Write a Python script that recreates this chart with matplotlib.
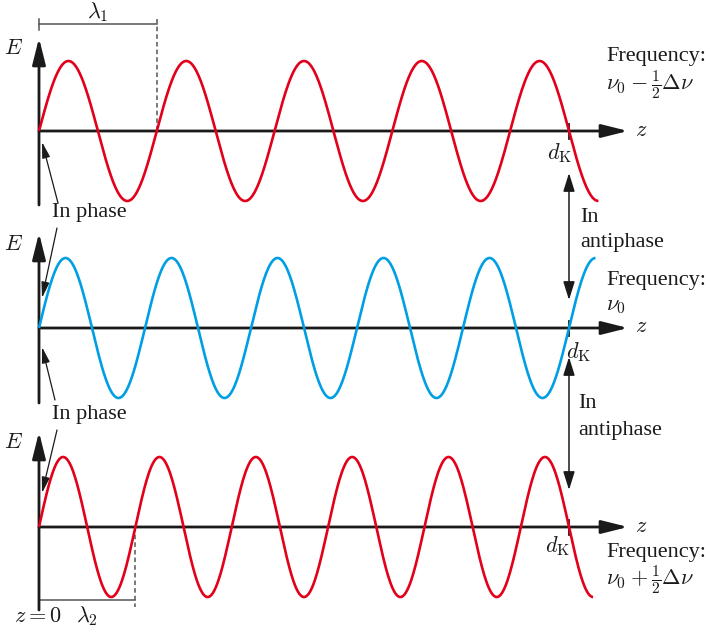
import numpy as np
import matplotlib
matplotlib.use("Agg")
import matplotlib.pyplot as plt
from matplotlib.patches import ArrowStyle

plt.rcParams['font.family'] = ['Liberation Serif', 'DejaVu Serif']
plt.rcParams['mathtext.fontset'] = 'cm'

# three waves, all measured against the same distance d_K
cycles_to_dk = [4.5, 5.0, 5.5]          # wavelengths fitting into d_K
cycles_drawn = [4.75, 5.25, 5.75]       # wavelengths drawn per wave
wave_colors = ['#e2001a', '#009fe3', '#e2001a']
freq_labels = [r'$\nu_0 - \frac{1}{2}\Delta\nu$', r'$\nu_0$', r'$\nu_0 + \frac{1}{2}\Delta\nu$']

# layout (pixels)
X0 = 39
DK = 530
AMP = 70
axis_y = [131, 328, 527]
vaxis_top = [38, 233, 432]
vaxis_bot = [205, 403, 610]
e_label_y = [50, 245, 443]
dk_label_xy = [(560, 153), (579, 352), (558, 546)]
freq_y = [(57, 85), (280, 306), (553, 580)]

INK = '#1a1a1a'
GREY = '#555555'
FS = 16

fig = plt.figure(figsize=(7.09, 6.29), dpi=100)
ax = fig.add_axes([0, 0, 1, 1])
ax.set_xlim(0, 709)
ax.set_ylim(629, 0)
ax.axis('off')

big_head = ArrowStyle('-|>', head_length=1.0, head_width=0.25)
thin_head = ArrowStyle('-|>', head_length=0.8, head_width=0.2)
dbl_head = ArrowStyle('<|-|>', head_length=0.8, head_width=0.25)


def arrow(p0, p1, style, ms, lw):
    ax.annotate('', xy=p1, xytext=p0,
                arrowprops=dict(arrowstyle=style, mutation_scale=ms, lw=lw,
                                color=INK, shrinkA=0, shrinkB=0))


for i in range(3):
    lam = DK / cycles_to_dk[i]
    ay = axis_y[i]
    # axes
    arrow((X0, ay), (628, ay), big_head, 16, 2.0)
    arrow((X0, vaxis_bot[i]), (X0, vaxis_top[i]), big_head, 16, 2.0)
    ax.text(14, e_label_y[i], '$E$', fontsize=FS, ha='center', va='center', color=INK)
    ax.text(641, ay, '$z$', fontsize=FS, ha='center', va='center', color=INK)
    # d_K tick
    ax.plot([X0 + DK, X0 + DK], [ay - 7, ay + 8], color=INK, lw=1.3)
    ax.text(*dk_label_xy[i], r'$d_{\mathrm{K}}$', fontsize=FS, ha='center', va='center', color=INK)
    # wave
    z = np.linspace(0, cycles_drawn[i] * lam, 800)
    ax.plot(X0 + z, ay - AMP * np.sin(2 * np.pi * z / lam),
            color=wave_colors[i], lw=1.9, solid_capstyle='butt', zorder=3)
    # frequency labels
    ax.text(606, freq_y[i][0], 'Frequency:', fontsize=FS, ha='left', va='center', color=INK)
    ax.text(606, freq_y[i][1], freq_labels[i], fontsize=FS, ha='left', va='center', color=INK)

# wavelength brackets
lam1 = DK / cycles_to_dk[0]
lam2 = DK / cycles_to_dk[2]
ax.plot([X0, X0 + lam1], [24, 24], color=GREY, lw=1.1)
ax.plot([X0, X0], [19, 30], color=GREY, lw=1.1)
ax.plot([X0 + lam1, X0 + lam1], [19, axis_y[0]], color=GREY, lw=1.1, ls=(0, (3, 2)))
ax.text(X0 + lam1 / 2, 12, r'$\lambda_1$', fontsize=FS, ha='center', va='center', color=INK)

ax.plot([X0, X0 + lam2], [600, 600], color=GREY, lw=1.1)
ax.plot([X0 + lam2, X0 + lam2], [axis_y[2], 607], color=GREY, lw=1.1, ls=(0, (3, 2)))
ax.text(X0 + lam2 / 2, 616, r'$\lambda_2$', fontsize=FS, ha='center', va='center', color=INK)
ax.text(38, 618, r'$z = 0$', fontsize=FS, ha='center', va='center', color=INK)

# in phase markers
ax.text(52, 213, 'In phase', fontsize=FS, ha='left', va='center', color=INK)
ax.text(52, 414, 'In phase', fontsize=FS, ha='left', va='center', color=INK)
arrow((58, 203), (42, 142), thin_head, 12, 0.9)
arrow((57, 228), (42, 298), thin_head, 12, 0.9)
arrow((55, 400), (42, 347), thin_head, 12, 0.9)
arrow((57, 430), (42, 493), thin_head, 12, 0.9)

# antiphase markers
arrow((X0 + DK, 173), (X0 + DK, 300), dbl_head, 14, 1.1)
arrow((X0 + DK, 357), (X0 + DK, 490), dbl_head, 14, 1.1)
ax.text(580, 217, 'In', fontsize=FS, ha='left', va='center', color=INK)
ax.text(580, 242, 'antiphase', fontsize=FS, ha='left', va='center', color=INK)
ax.text(578, 404, 'In', fontsize=FS, ha='left', va='center', color=INK)
ax.text(578, 430, 'antiphase', fontsize=FS, ha='left', va='center', color=INK)

fig.savefig('out.png', dpi=100, facecolor='white')
